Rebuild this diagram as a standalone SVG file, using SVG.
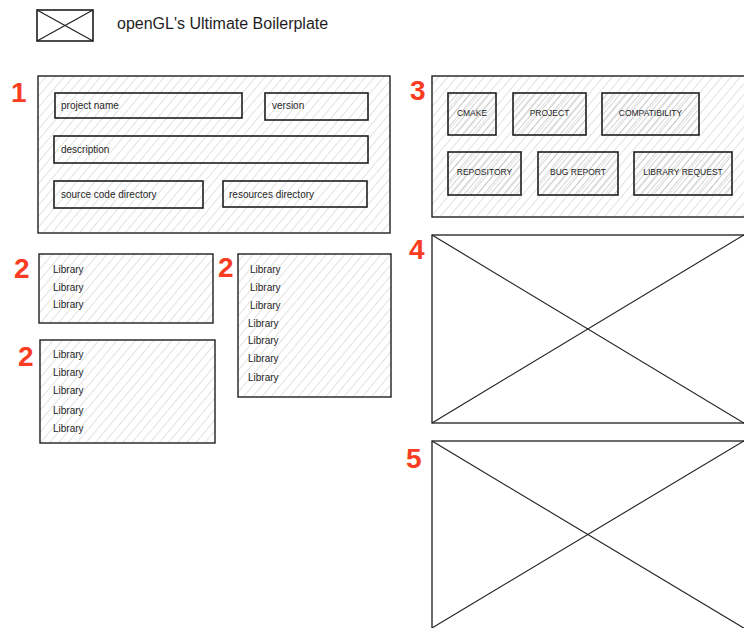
<svg xmlns="http://www.w3.org/2000/svg" width="744" height="628" viewBox="0 0 744 628">
<defs>
<pattern id="hatch" width="7" height="7" patternUnits="userSpaceOnUse" patternTransform="rotate(40)">
<line x1="0" y1="0" x2="0" y2="7" stroke="#c6c6c6" stroke-width="1"/>
</pattern>
<pattern id="hatchDark" width="5" height="5" patternUnits="userSpaceOnUse" patternTransform="rotate(40)">
<line x1="0" y1="0" x2="0" y2="5" stroke="#a8a8a8" stroke-width="1"/>
</pattern>
</defs>
<style>
.box{fill:url(#hatch);stroke:#1e1e1e;stroke-width:1.4}
.field{fill:none;stroke:#1e1e1e;stroke-width:1.6}
.btn{fill:url(#hatchDark);stroke:#1e1e1e;stroke-width:1.6}
.img{fill:#fff;stroke:#1e1e1e;stroke-width:1.3}
.x{stroke:#1e1e1e;stroke-width:1.1;fill:none}
.num{font-family:"Liberation Sans",Arial,sans-serif;font-weight:bold;font-size:28px;fill:#f93c22}
.t{font-family:"Liberation Sans",Arial,sans-serif;font-size:10px;fill:#1e1e1e}
.b{font-family:"Liberation Sans",Arial,sans-serif;font-size:8.5px;fill:#1e1e1e;text-anchor:middle}
.title{font-family:"Liberation Sans",Arial,sans-serif;font-size:16px;fill:#1e1e1e}
</style>
<rect width="744" height="628" fill="#fff"/>

<g id="header">
<rect x="37" y="10" width="56" height="31" class="field"/>
<line x1="37" y1="10" x2="93" y2="41" class="x"/>
<line x1="93" y1="10" x2="37" y2="41" class="x"/>
<text x="117" y="29" class="title">openGL's Ultimate Boilerplate</text>
</g>

<g id="panel1">
<text x="11" y="102" class="num">1</text>
<rect x="38" y="76" width="352" height="157" class="box"/>
<rect x="55" y="93" width="187" height="25" class="field"/>
<text x="61" y="109" class="t">project name</text>
<rect x="265" y="93" width="103" height="27" class="field"/>
<text x="272" y="109" class="t">version</text>
<rect x="54" y="136" width="314" height="27" class="field"/>
<text x="61" y="153" class="t">description</text>
<rect x="54" y="181" width="149" height="27" class="field"/>
<text x="61" y="198" class="t">source code directory</text>
<rect x="223" y="181" width="144" height="26" class="field"/>
<text x="229" y="198" class="t">resources directory</text>
</g>

<g id="panel3">
<text x="410" y="100" class="num">3</text>
<rect x="432" y="76" width="320" height="141" class="box"/>
<rect x="448" y="93" width="48" height="42" class="btn"/>
<text x="472" y="116" class="b">CMAKE</text>
<rect x="513" y="93" width="73" height="42" class="btn"/>
<text x="549.5" y="116" class="b">PROJECT</text>
<rect x="602" y="93" width="97" height="42" class="btn"/>
<text x="650.5" y="116" class="b">COMPATIBILITY</text>
<rect x="448" y="152" width="73" height="43" class="btn"/>
<text x="484.5" y="175" class="b">REPOSITORY</text>
<rect x="538" y="152" width="80" height="43" class="btn"/>
<text x="578" y="175" class="b">BUG REPORT</text>
<rect x="634" y="152" width="98" height="43" class="btn"/>
<text x="683" y="175" class="b">LIBRARY REQUEST</text>
</g>

<g id="panel2a">
<text x="14" y="278" class="num">2</text>
<rect x="39" y="254" width="174" height="69" class="box"/>
<text x="53" y="273" class="t">Library</text>
<text x="53" y="291" class="t">Library</text>
<text x="53" y="308" class="t">Library</text>
</g>

<g id="panel2b">
<text x="218" y="277" class="num">2</text>
<rect x="238" y="254" width="153" height="143" class="box"/>
<text x="250" y="273" class="t">Library</text>
<text x="250" y="291" class="t">Library</text>
<text x="250" y="309" class="t">Library</text>
<text x="248" y="327" class="t">Library</text>
<text x="248" y="344" class="t">Library</text>
<text x="248" y="362" class="t">Library</text>
<text x="248" y="381" class="t">Library</text>
</g>

<g id="panel2c">
<text x="18" y="366" class="num">2</text>
<rect x="40" y="340" width="175" height="103" class="box"/>
<text x="53" y="358" class="t">Library</text>
<text x="53" y="376" class="t">Library</text>
<text x="53" y="394" class="t">Library</text>
<text x="53" y="414" class="t">Library</text>
<text x="53" y="432" class="t">Library</text>
</g>

<g id="panel4">
<text x="409" y="259" class="num">4</text>
<rect x="432" y="235" width="320" height="188" class="img"/>
<line x1="432" y1="235" x2="752" y2="428" class="x"/>
<line x1="432" y1="423" x2="752" y2="230" class="x"/>
</g>

<g id="panel5">
<text x="406" y="468" class="num">5</text>
<rect x="432" y="441" width="320" height="195" class="img"/>
<line x1="432" y1="441" x2="752" y2="633" class="x"/>
<line x1="432" y1="628" x2="752" y2="436" class="x"/>
</g>

<g id="connectors"></g>
</svg>
